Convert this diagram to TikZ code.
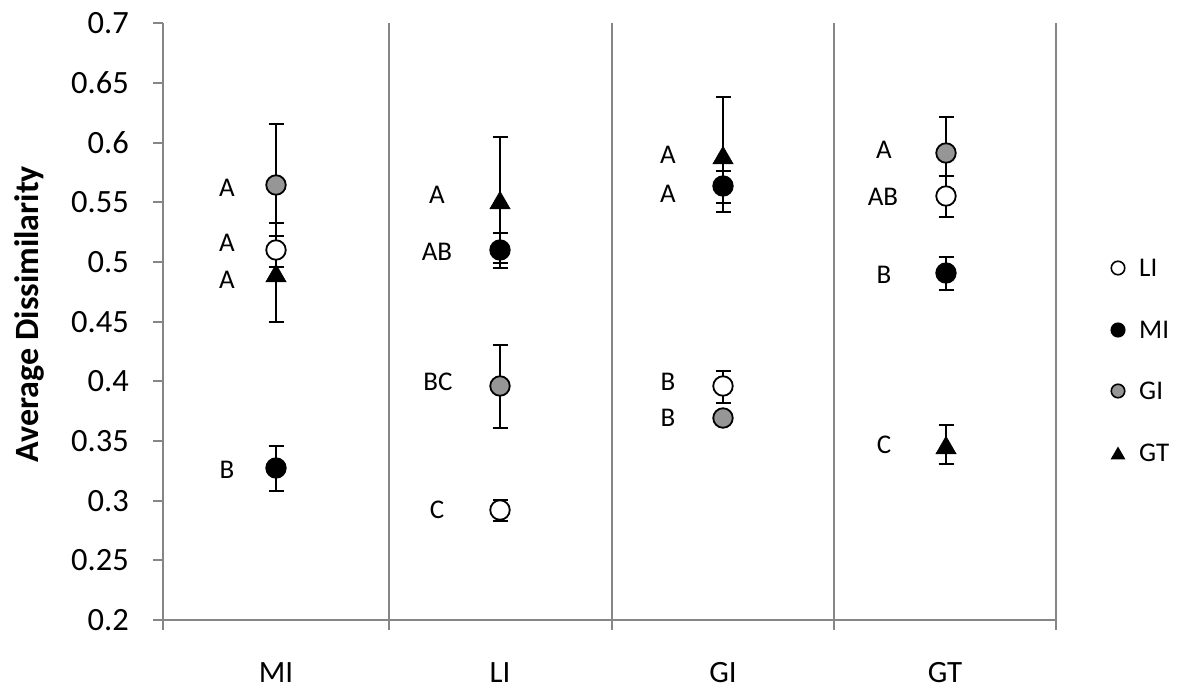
\documentclass[tikz,border=0pt]{standalone}
\usepackage{fontspec}
\setmainfont{Carlito}
\usetikzlibrary{shapes.geometric}
\definecolor{axisgray}{RGB}{134,134,134}
\definecolor{markgray}{RGB}{150,150,150}
\newcommand\ebar[3]{\draw[errbar] (#1-7.5,#2) -- (#1+7.5,#2) (#1,#2) -- (#1,#3) (#1-7.5,#3) -- (#1+7.5,#3);}
\begin{document}
\begin{tikzpicture}[x=1pt,y=-1pt,
  gridline/.style={draw=axisgray,line width=2pt},
  errbar/.style={draw=black,line width=2pt},
  mkbase/.style={circle,draw=black,line width=1.8pt,minimum size=19.5pt,inner sep=0pt},
  mkopen/.style={mkbase,fill=white},
  mkblack/.style={mkbase,fill=black},
  mkgray/.style={mkbase,fill=markgray},
  mktri/.style={regular polygon,regular polygon sides=3,fill=black,draw=black,line width=0.5pt,minimum size=23.5pt,inner sep=0pt,yshift=-3pt},
  lgbase/.style={circle,draw=black,line width=1.6pt,minimum size=13.5pt,inner sep=0pt},
  lgtri/.style={regular polygon,regular polygon sides=3,fill=black,minimum size=17pt,inner sep=0pt,yshift=-2pt},
  ticklab/.style={font=\fontsize{32.5}{38}\selectfont,anchor=east,inner sep=0pt},
  catlab/.style={font=\fontsize{31}{37}\selectfont,inner sep=0pt},
  datalab/.style={font=\fontsize{27}{32}\selectfont,inner sep=0pt},
  leglab/.style={font=\fontsize{27}{32}\selectfont,anchor=west,inner sep=0pt}]
\useasboundingbox (0,0) rectangle (1180,693);
% axes and dividers
\draw[gridline] (163,23.5) -- (163,620) -- (1056,620);
\foreach \xx in {388.5,612,834,1056} \draw[gridline] (\xx,23.5) -- (\xx,630);
\draw[gridline] (163,620) -- (163,630);
\foreach \k/\t in {0/0.7,1/0.65,2/0.6,3/0.55,4/0.5,5/0.45,6/0.4,7/0.35,8/0.3,9/0.25,10/0.2} {
  \draw[gridline] (153,23.5+\k*59.65) -- (163,23.5+\k*59.65);
  \node[ticklab] (t\k) at (129,23.5+\k*59.65) {\t};
}
\node[font=\bfseries\fontsize{34}{40}\selectfont,rotate=90,inner sep=0pt] (ytitle) at (29,314) {Average Dissimilarity};
% category labels
\node[catlab] (cMI) at (276,673) {MI};
\node[catlab] (cLI) at (500,673) {LI};
\node[catlab] (cGI) at (723,673) {GI};
\node[catlab] (cGT) at (945,673) {GT};
% error bars
\ebar{276}{124}{246}
\ebar{276}{236}{267}
\ebar{276}{223}{322}
\ebar{276}{446}{491}
\ebar{500}{137}{263}
\ebar{500}{233}{268}
\ebar{500}{345}{428}
\ebar{500}{500}{521}
\ebar{723}{97}{212}
\ebar{723}{171}{203}
\ebar{723}{371}{403}
\ebar{946}{117}{189}
\ebar{946}{176}{217}
\ebar{946}{257}{290}
\ebar{946}{425}{464}
% markers
\node[mkgray] (mi-gi) at (276,185) {};
\node[mkopen] (mi-li) at (276,250) {};
\node[mktri] (mi-gt) at (276,273) {};
\node[mkblack] (mi-mi) at (276,468) {};
\node[mktri] (li-gt) at (500,200) {};
\node[mkblack] (li-mi) at (500,250) {};
\node[mkgray] (li-gi) at (500,386) {};
\node[mkopen] (li-li) at (500,510) {};
\node[mktri] (gi-gt) at (723,155) {};
\node[mkblack] (gi-mi) at (723,186) {};
\node[mkopen] (gi-li) at (723,386) {};
\node[mkgray] (gi-gi) at (723,418) {};
\node[mkgray] (gt-gi) at (946,153) {};
\node[mkopen] (gt-li) at (946,196) {};
\node[mkblack] (gt-mi) at (946,273) {};
\node[mktri] (gt-gt) at (946,445) {};
% letter labels
\node[datalab] (a1) at (227,188) {A};
\node[datalab] (a2) at (227,243) {A};
\node[datalab] (a3) at (227,280) {A};
\node[datalab] (a4) at (227,470) {B};
\node[datalab] (b1) at (437,195) {A};
\node[datalab] (b2) at (437,252) {AB};
\node[datalab] (b3) at (438,382) {BC};
\node[datalab] (b4) at (437,510) {C};
\node[datalab] (c1) at (668,155) {A};
\node[datalab] (c2) at (668,194) {A};
\node[datalab] (c3) at (668,382) {B};
\node[datalab] (c4) at (668,418) {B};
\node[datalab] (d1) at (884,150) {A};
\node[datalab] (d2) at (883,197) {AB};
\node[datalab] (d3) at (884,275) {B};
\node[datalab] (d4) at (884,445) {C};
% legend
\node[lgbase,fill=white] (lg1) at (1118,268) {};
\node[lgbase,fill=black] (lg2) at (1118,330) {};
\node[lgbase,fill=markgray] (lg3) at (1118,391) {};
\node[lgtri] (lg4) at (1118,453) {};
\node[leglab] (lt1) at (1139,268) {LI};
\node[leglab] (lt2) at (1139,330) {MI};
\node[leglab] (lt3) at (1139,391) {GI};
\node[leglab] (lt4) at (1139,453) {GT};
\end{tikzpicture}
\end{document}
